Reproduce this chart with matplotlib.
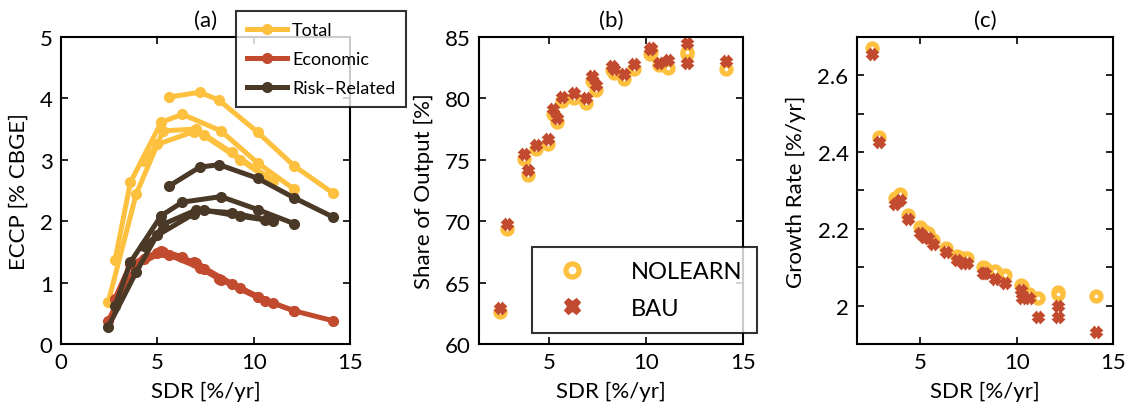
import numpy as np
import matplotlib
matplotlib.use('Agg')
import matplotlib.pyplot as plt
from matplotlib.ticker import FixedLocator

plt.rcParams['font.family'] = ['Lato', 'DejaVu Sans']

# colours
c_total = '#FDC13F'
c_econ = '#C24A2E'
c_risk = '#4A3926'

# (a) ECCP split by component, one line per parameter family
sdr_runs = [
	[5.6, 7.2, 8.2, 10.2, 12.1, 14.1],
	[2.8, 3.6, 5.2, 6.3, 8.3, 10.2, 12.1],
	[2.45, 3.9, 5.3, 7.0, 8.85, 11.0],
	[4.3, 5.0, 6.9, 7.4, 9.3, 10.6],
]
total_runs = [
	[4.02, 4.10, 3.97, 3.45, 2.90, 2.46],
	[1.36, 2.63, 3.61, 3.74, 3.47, 2.95, 2.52],
	[0.68, 2.44, 3.47, 3.50, 3.12, 2.66],
	[2.98, 3.25, 3.46, 3.40, 3.00, 2.72],
]
econ_runs = [
	[1.45, 1.24, 1.06, 0.76, 0.54, 0.38],
	[0.74, 1.30, 1.52, 1.42, 1.05, 0.76, 0.54],
	[0.38, 1.28, 1.50, 1.32, 0.98, 0.66],
	[1.38, 1.48, 1.34, 1.22, 0.92, 0.70],
]
risk_runs = [
	[2.57, 2.88, 2.92, 2.70, 2.38, 2.07],
	[0.62, 1.33, 2.09, 2.31, 2.40, 2.19, 1.96],
	[0.28, 1.17, 1.95, 2.18, 2.14, 2.00],
	[1.60, 1.77, 2.12, 2.18, 2.08, 2.02],
]

# (b),(c) per-run scatter
sdr_pts = [2.5, 2.84, 3.7, 3.93, 4.36, 4.96, 5.21, 5.40, 5.66, 6.31, 6.92, 7.21,
	7.44, 8.25, 8.35, 8.85, 9.37, 10.2, 10.25, 10.66, 11.13, 12.13, 12.13, 14.12]
share_nolearn = [62.6, 69.4, 75.1, 73.8, 75.9, 76.3, 78.7, 78.1, 79.8, 80.0, 79.6, 81.4,
	80.7, 82.3, 82.1, 81.6, 82.4, 83.6, 83.8, 82.7, 82.5, 83.6, 83.8, 82.4]
share_bau = [62.9, 69.8, 75.5, 74.2, 76.2, 76.7, 79.1, 78.4, 80.1, 80.4, 80.0, 81.8,
	81.1, 82.6, 82.4, 82.0, 82.8, 84.0, 84.1, 82.9, 83.1, 84.5, 82.9, 83.0]
growth_nolearn = [2.67, 2.438, 2.28, 2.29, 2.237, 2.205, 2.195, 2.19, 2.17, 2.15, 2.13, 2.125,
	2.125, 2.10, 2.098, 2.09, 2.08, 2.055, 2.05, 2.03, 2.02, 2.035, 2.03, 2.025]
growth_bau = [2.655, 2.425, 2.265, 2.275, 2.225, 2.19, 2.18, 2.175, 2.16, 2.14, 2.12, 2.11,
	2.11, 2.085, 2.085, 2.07, 2.06, 2.04, 2.02, 2.02, 1.97, 2.0, 1.97, 1.93]

fs = 16

def style_axes(ax):
	ax.tick_params(direction='in', top=True, right=True, length=5, width=1.2,
		labelsize=fs, pad=6)
	for s in ax.spines.values():
		s.set_linewidth(1.5)

def scatter_pair(ax, y_nolearn, y_bau):
	ax.plot(sdr_pts, y_nolearn, linestyle='none', marker='o', ms=6.5, mew=3.8,
		mec=c_total, mfc='white', label='NOLEARN')
	ax.plot(sdr_pts, y_bau, linestyle='none', marker='X', ms=7, mew=1.8,
		mec=c_econ, mfc=c_econ, label='BAU')

def box_legend(leg):
	leg.get_frame().set_edgecolor('black')
	leg.get_frame().set_linewidth(1.5)
	leg.set_zorder(10)

fig = plt.figure(figsize=(11.38, 4.10), dpi=100)

#(a)
ax = fig.add_axes([0.0536, 0.1585, 0.254, 0.749])
for i in range(len(sdr_runs)):
	ax.plot(sdr_runs[i], total_runs[i], color=c_total, linewidth=3.6, marker='o', ms=7,
		label='Total' if i == 0 else None, zorder=2)
for i in range(len(sdr_runs)):
	ax.plot(sdr_runs[i], econ_runs[i], color=c_econ, linewidth=3.6, marker='o', ms=7,
		label='Economic' if i == 0 else None, zorder=3)
for i in range(len(sdr_runs)):
	ax.plot(sdr_runs[i], risk_runs[i], color=c_risk, linewidth=3.6, marker='o', ms=7,
		label='Risk\u2013Related' if i == 0 else None, zorder=4)
ax.axis([0, 15, 0, 5])
ax.set_xticks([0, 5, 10, 15])
ax.set_yticks([0, 1, 2, 3, 4, 5])
style_axes(ax)
ax.set_xlabel('SDR [%/yr]', fontsize=fs, labelpad=6)
ax.set_ylabel('ECCP [% CBGE]', fontsize=fs, labelpad=8)
ax.set_title('(a)', fontsize=fs, pad=8)
leg = ax.legend(loc='upper left', bbox_to_anchor=(236/1138., 1-12/410.),
	bbox_transform=fig.transFigure, borderaxespad=0, frameon=True, fancybox=False,
	handlelength=2.2, handletextpad=0.3, labelspacing=0.72, borderpad=0.6,
	prop={'size': 13})
box_legend(leg)

#(b)
axb = fig.add_axes([0.4209, 0.1585, 0.232, 0.749])
scatter_pair(axb, share_nolearn, share_bau)
axb.axis([1.4, 15, 60, 85])
axb.set_xticks([5, 10, 15])
axb.set_yticks([60, 65, 70, 75, 80, 85])
style_axes(axb)
axb.set_xlabel('SDR [%/yr]', fontsize=fs, labelpad=6)
axb.set_ylabel('Share of Output [%]', fontsize=fs, labelpad=8)
axb.set_title('(b)', fontsize=fs, pad=8)
legb = axb.legend(loc='upper left', bbox_to_anchor=(532/1138., 1-248/410.),
	bbox_transform=fig.transFigure, borderaxespad=0, fontsize=17, frameon=True,
	fancybox=False, markerscale=1.45, handlelength=2.2, handletextpad=1.4,
	borderpad=0.6, labelspacing=0.65)
box_legend(legb)

#(c)
axc = fig.add_axes([0.753, 0.1585, 0.225, 0.749])
scatter_pair(axc, growth_nolearn, growth_bau)
axc.axis([1.7, 15, 1.9, 2.7])
axc.set_xticks([5, 10, 15])
axc.yaxis.set_major_locator(FixedLocator(np.arange(2.0, 2.65, 0.1)))
axc.set_yticklabels(['2', '', '2.2', '', '2.4', '', '2.6'])
style_axes(axc)
axc.set_xlabel('SDR [%/yr]', fontsize=fs, labelpad=6)
axc.set_ylabel('Growth Rate [%/yr]', fontsize=fs, labelpad=8)
axc.set_title('(c)', fontsize=fs, pad=8)

plt.savefig('out.png', dpi=100)
